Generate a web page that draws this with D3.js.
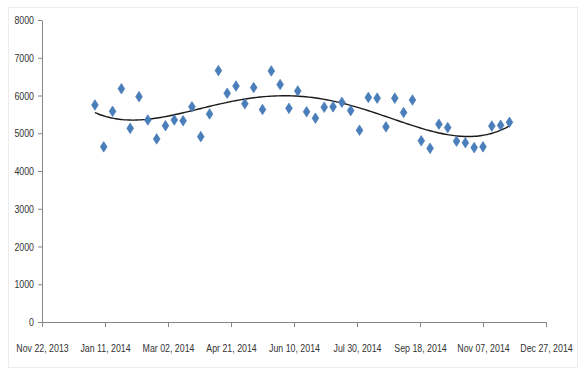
<!DOCTYPE html>
<html>
<head>
<meta charset="utf-8">
<script src="https://cdn.jsdelivr.net/npm/d3@7"></script>
<style>
  html, body { margin: 0; padding: 0; background: #fff; }
  svg text { font-family: "Liberation Sans", Arial, sans-serif; }
</style>
</head>
<body>
<div id="chart"></div>
<script>
// weekly observations
const dates = [
    '2014-01-03', '2014-01-10', '2014-01-17', '2014-01-24', '2014-01-31',
    '2014-02-07', '2014-02-14', '2014-02-21', '2014-02-28',
    '2014-03-07', '2014-03-14', '2014-03-21', '2014-03-28',
    '2014-04-04', '2014-04-11', '2014-04-18', '2014-04-25',
    '2014-05-02', '2014-05-09', '2014-05-16', '2014-05-23', '2014-05-30',
    '2014-06-06', '2014-06-13', '2014-06-20', '2014-06-27',
    '2014-07-04', '2014-07-11', '2014-07-18', '2014-07-25',
    '2014-08-01', '2014-08-08', '2014-08-15', '2014-08-22', '2014-08-29',
    '2014-09-05', '2014-09-12', '2014-09-19', '2014-09-26',
    '2014-10-03', '2014-10-10', '2014-10-17', '2014-10-24', '2014-10-31',
    '2014-11-07', '2014-11-14', '2014-11-21', '2014-11-28'
];
const values = [
    5750, 4640, 5580, 6180, 5130,
    5970, 5350, 4850, 5200,
    5350, 5330, 5700, 4910,
    5510, 6660, 6060, 6250,
    5780, 6210, 5630, 6650, 6290,
    5660, 6120, 5570, 5400,
    5690, 5700, 5820, 5600,
    5080, 5950, 5930, 5170, 5930,
    5550, 5880, 4800, 4600,
    5240, 5150, 4790, 4750, 4620,
    4640, 5190, 5210, 5290
];

const xDomain = ['2013-11-22', '2014-12-27'];
const xTicks = ['2013-11-22', '2014-01-11', '2014-03-02', '2014-04-21', '2014-06-10',
                '2014-07-30', '2014-09-18', '2014-11-07', '2014-12-27'];
const yTicks = [0, 1000, 2000, 3000, 4000, 5000, 6000, 7000, 8000];
const trendOrder = 4;

const parse = d3.timeParse('%Y-%m-%d');
const data = dates.map((d, i) => ({ date: parse(d), value: values[i] }));

const width = 586, height = 375;
const margin = { top: 20, right: 40, bottom: 53, left: 42 };

const svg = d3.select('#chart')
    .append('svg')
    .attr('width', width)
    .attr('height', height);

// chart frame
svg.append('rect')
    .attr('x', 8.5).attr('y', 7.5)
    .attr('width', 569).attr('height', 360)
    .attr('fill', '#fff')
    .attr('stroke', '#ececec');

const x = d3.scaleTime()
    .domain(xDomain.map(parse))
    .range([margin.left, width - margin.right]);

const y = d3.scaleLinear()
    .domain([0, 8000])
    .range([height - margin.bottom, margin.top]);

// axes
const xAxis = svg.append('g')
    .attr('transform', `translate(0,${y(0)})`)
    .call(d3.axisBottom(x)
        .tickValues(xTicks.map(parse))
        .tickSize(5)
        .tickSizeOuter(0)
        .tickPadding(17)
        .tickFormat(d3.timeFormat('%b %d, %Y')));

const yAxis = svg.append('g')
    .attr('transform', `translate(${margin.left},0)`)
    .call(d3.axisLeft(y)
        .tickValues(yTicks)
        .tickSize(4)
        .tickSizeOuter(0)
        .tickPadding(4)
        .tickFormat(d3.format('d')));

[xAxis, yAxis].forEach(g => {
    g.select('.domain').attr('stroke', '#868686');
    g.selectAll('.tick line').attr('stroke', '#868686');
    g.selectAll('.tick text')
        .attr('fill', '#333')
        .style('font-size', '11px')
        .each(function () {
            // squeeze glyphs to look like the narrow font in the original
            const len = this.getComputedTextLength();
            d3.select(this).attr('textLength', len * 0.8).attr('lengthAdjust', 'spacingAndGlyphs');
        });
});

// polynomial trendline (least squares, like Excel's polynomial trendline)
const t0 = data[0].date;
const toT = d => (d - t0) / 864e5 / 100;
function polyFit(xs, ys, order) {
    const n = order + 1;
    const A = Array.from({ length: n }, () => new Array(n + 1).fill(0));
    xs.forEach((xv, k) => {
        for (let i = 0; i < n; i++) {
            for (let j = 0; j < n; j++) A[i][j] += Math.pow(xv, i + j);
            A[i][n] += ys[k] * Math.pow(xv, i);
        }
    });
    for (let c = 0; c < n; c++) {
        let p = c;
        for (let r = c + 1; r < n; r++) if (Math.abs(A[r][c]) > Math.abs(A[p][c])) p = r;
        [A[c], A[p]] = [A[p], A[c]];
        for (let r = 0; r < n; r++) {
            if (r === c) continue;
            const f = A[r][c] / A[c][c];
            for (let k = c; k <= n; k++) A[r][k] -= f * A[c][k];
        }
    }
    return A.map((row, i) => row[n] / row[i]);
}
const coef = polyFit(data.map(d => toT(d.date)), values, trendOrder);
const predict = t => coef.reduce((s, c, i) => s + c * Math.pow(t, i), 0);

const tEnd = toT(data[data.length - 1].date);
const trend = d3.range(0, 121).map(i => {
    const t = tEnd * i / 120;
    return { date: new Date(+t0 + t * 100 * 864e5), value: predict(t) };
});

svg.append('path')
    .datum(trend)
    .attr('fill', 'none')
    .attr('stroke', '#1a1a1a')
    .attr('stroke-width', 1.4)
    .attr('d', d3.line().x(d => x(d.date)).y(d => y(d.value)).curve(d3.curveMonotoneX));

// diamond markers
const dw = 3.4, dh = 5.3;
svg.append('g')
    .selectAll('path')
    .data(data)
    .enter()
    .append('path')
    .attr('transform', d => `translate(${x(d.date)},${y(d.value)})`)
    .attr('d', `M0,${-dh}L${dw},0L0,${dh}L${-dw},0Z`)
    .attr('fill', '#4a7ebb')
    .attr('stroke', '#4577b3')
    .attr('stroke-width', 0.6);
</script>
</body>
</html>
